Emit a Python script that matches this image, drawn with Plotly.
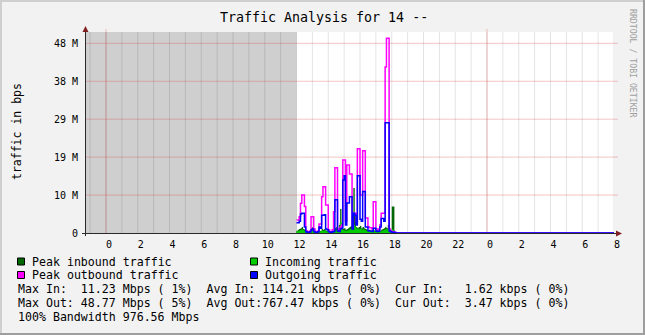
import plotly.graph_objects as go

# ---------------- data (Mbps), 5-minute samples starting at START_HOUR ----------------
# last value of each list is the flat level held until END_HOUR
peak_out = [3.3, 3.3, 4.1, 7.5, 9.6, 9.6, 6.7, 0.6, 0.4, 0.4,
            0.5, 4.1, 4.1, 1.0, 0.4, 0.3, 0.5, 2.3, 2.3, 9.2,
            11.7, 11.7, 7.1, 7.1, 0.8, 0.4, 0.4, 0.8, 5.4, 16.5,
            16.5, 1.0, 0.6, 1.5, 2.0, 18.5, 18.5, 3.0, 17.2, 17.2,
            14.9, 14.9, 2.0, 5.0, 5.0, 3.0, 21.3, 21.3, 9.6, 9.6,
            20.8, 20.8, 3.8, 3.8, 1.5, 1.3, 1.3, 1.0, 7.9, 7.9,
            1.0, 0.8, 1.0, 2.0, 5.0, 5.0, 5.0, 42.0, 49.3, 49.3,
            1.0, 0.5, 0.4, 0.3, 0.2, 0.005]
out = [2.6, 2.6, 3.0, 4.8, 5.0, 5.0, 1.5, 0.3, 0.2, 0.2,
       0.3, 0.8, 1.0, 0.4, 0.2, 0.2, 0.3, 1.5, 1.2, 4.5,
       4.5, 4.6, 1.0, 0.8, 0.4, 0.2, 0.2, 0.3, 0.4, 8.4,
       8.4, 0.5, 0.4, 1.0, 1.2, 13.4, 14.5, 2.0, 7.6, 7.6,
       9.2, 9.2, 1.0, 5.0, 4.5, 2.0, 14.5, 14.5, 3.5, 3.0,
       10.5, 10.5, 1.5, 1.5, 0.6, 0.5, 0.5, 0.4, 1.2, 1.2,
       0.5, 0.4, 0.5, 1.5, 3.7, 3.7, 3.0, 27.9, 27.9, 27.9,
       0.5, 0.3, 0.2, 0.2, 0.1, 0.0035]
peak_in = [0.6, 0.8, 1.0, 1.2, 1.5, 1.0, 0.8, 0.4, 0.3, 0.3,
           0.4, 1.2, 1.5, 0.4, 0.3, 0.3, 0.4, 0.6, 0.5, 1.0,
           0.8, 1.0, 0.6, 0.5, 0.3, 0.3, 0.3, 0.4, 0.8, 1.2,
           1.5, 0.6, 2.0, 6.1, 1.5, 1.0, 1.2, 0.8, 1.0, 1.2,
           1.5, 1.8, 1.0, 11.4, 5.0, 1.5, 1.2, 1.5, 1.8, 1.2,
           1.5, 1.2, 1.0, 0.8, 0.6, 0.8, 0.6, 0.5, 0.8, 0.6,
           0.5, 0.4, 0.5, 0.6, 0.8, 1.0, 1.2, 1.5, 1.2, 2.0,
           1.0, 0.6, 6.7, 6.7, 0.3, 0.003]
incoming = [0.3, 0.4, 0.5, 0.6, 0.8, 0.5, 0.3, 0.2, 0.2, 0.1,
            0.2, 0.5, 0.6, 0.2, 0.1, 0.1, 0.2, 0.3, 0.3, 0.5,
            0.4, 0.5, 0.3, 0.3, 0.2, 0.1, 0.1, 0.2, 0.3, 0.6,
            0.7, 0.3, 1.0, 2.5, 0.8, 0.6, 0.5, 0.4, 0.5, 0.6,
            0.8, 1.0, 0.6, 2.0, 1.5, 1.0, 0.8, 0.9, 1.0, 0.6,
            0.8, 0.7, 0.5, 0.4, 0.3, 0.4, 0.3, 0.3, 0.4, 0.3,
            0.2, 0.2, 0.3, 0.3, 0.4, 0.5, 0.6, 0.8, 0.6, 1.0,
            0.5, 0.3, 0.8, 0.6, 0.2, 0.0016]

START_HOUR = 12.0
STEP_MIN = 5
END_HOUR = 32.0
X_MIN = -1.323

y_tickvals = [0, 9.6, 19.2, 28.8, 38.4, 48.0]
y_ticktext = ["0", "10 M", "19 M", "29 M", "38 M", "48 M"]
Y_MAX = 50.86
x_tick_hours = list(range(-1, 33))
x_ticktext = [str(h % 24) if h % 2 == 0 else "" for h in x_tick_hours]
day_lines = [0, 24]

legend_rows = [
    [("Peak inbound traffic", "#006600"), ("Incoming traffic", "#00cc00")],
    [("Peak outbound traffic", "#ff00ff"), ("Outgoing traffic", "#0000ff")],
]
stats_lines = [
    "Max In:  11.23 Mbps ( 1%)  Avg In: 114.21 kbps ( 0%)  Cur In:   1.62 kbps ( 0%)",
    "Max Out: 48.77 Mbps ( 5%)  Avg Out:767.47 kbps ( 0%)  Cur Out:  3.47 kbps ( 0%)",
    "100% Bandwidth 976.56 Mbps",
]
title_text = "Traffic Analysis for 14 --"
ytitle_text = "traffic in bps"
watermark = "RRDTOOL / TOBI OETIKER"

# ---------------- layout geometry (pixels) ----------------
W, H = 645, 335
PL, PR, PT, PB = 85, 614, 32, 233
PW, PH = PR - PL, PB - PT
FONT = "DejaVu Sans Mono"
MINOR_GRID = "rgba(0,0,0,0.11)"
MAJOR_GRID = "rgba(220,70,70,0.32)"


def px(X):
    return (X - PL) / PW


def py(Y):
    return (PB - Y) / PH


def nb(s):
    return s.replace(" ", "\u00a0")


times = [START_HOUR + i * STEP_MIN / 60.0 for i in range(len(out))] + [END_HOUR]


def ext(v):
    return list(v) + [v[-1]]


fig = go.Figure()
fig.add_trace(go.Scatter(x=times, y=ext(peak_in), mode="lines", line=dict(shape="hv", width=0, color="#006600"),
                         fill="tozeroy", fillcolor="#006600", hoverinfo="skip"))
fig.add_trace(go.Scatter(x=times, y=ext(incoming), mode="lines", line=dict(shape="hv", width=1, color="#00cc00"),
                         fill="tozeroy", fillcolor="#00cc00", hoverinfo="skip"))
fig.add_trace(go.Scatter(x=times, y=ext(peak_out), mode="lines", line=dict(shape="hv", width=1.5, color="#ff00ff"),
                         hoverinfo="skip"))
fig.add_trace(go.Scatter(x=times, y=ext(out), mode="lines", line=dict(shape="hv", width=1.5, color="#0000ff"),
                         hoverinfo="skip"))

shapes = []
# unknown (grey) region
shapes.append(dict(type="rect", xref="x", yref="paper", x0=X_MIN, x1=START_HOUR, y0=0, y1=1,
                   fillcolor="#cfcfcf", line=dict(width=0), layer="below"))
# grid drawn over the grey region
for h in x_tick_hours:
    shapes.append(dict(type="line", xref="x", yref="paper", x0=h, x1=h, y0=0, y1=1,
                       line=dict(color=MINOR_GRID, width=1), layer="below"))
for d in day_lines:
    shapes.append(dict(type="line", xref="x", yref="paper", x0=d, x1=d, y0=0, y1=1.015,
                       line=dict(color=MAJOR_GRID, width=1), layer="below"))
for v in y_tickvals[1:]:
    shapes.append(dict(type="line", xref="paper", yref="y", x0=0, x1=px(618), y0=v, y1=v,
                       line=dict(color=MAJOR_GRID, width=1), layer="below"))
# axes
AX = "#2a2a2a"
ARROW = "#802020"
shapes.append(dict(type="line", xref="paper", yref="paper", x0=px(82), x1=px(617), y0=py(PB + 0.5), y1=py(PB + 0.5),
                   line=dict(color=AX, width=1), layer="below"))
shapes.append(dict(type="line", xref="paper", yref="paper", x0=px(85.5), x1=px(85.5), y0=py(236), y1=py(30),
                   line=dict(color=AX, width=1)))
shapes.append(dict(type="path", xref="paper", yref="paper",
                   path=f"M {px(85.5)} {py(26)} L {px(82.5)} {py(32)} L {px(88.5)} {py(32)} Z",
                   fillcolor=ARROW, line=dict(width=0)))
shapes.append(dict(type="path", xref="paper", yref="paper",
                   path=f"M {px(622)} {py(233.5)} L {px(616)} {py(230.5)} L {px(616)} {py(236.5)} Z",
                   fillcolor=ARROW, line=dict(width=0)))
# 3D frame of the image
shapes.append(dict(type="rect", xref="paper", yref="paper", x0=px(0), x1=px(W), y0=py(0), y1=py(2),
                   fillcolor="#cfcfcf", line=dict(width=0)))
shapes.append(dict(type="rect", xref="paper", yref="paper", x0=px(0), x1=px(2), y0=py(0), y1=py(H),
                   fillcolor="#cfcfcf", line=dict(width=0)))
shapes.append(dict(type="rect", xref="paper", yref="paper", x0=px(0), x1=px(W), y0=py(H - 2), y1=py(H),
                   fillcolor="#9e9e9e", line=dict(width=0)))
shapes.append(dict(type="rect", xref="paper", yref="paper", x0=px(W - 2), x1=px(W), y0=py(0), y1=py(H),
                   fillcolor="#9e9e9e", line=dict(width=0)))

annotations = []
annotations.append(dict(text=nb(title_text), x=px(324), y=py(17), xref="paper", yref="paper",
                        xanchor="center", yanchor="middle", showarrow=False, borderpad=0,
                        font=dict(family=FONT, size=13.3, color="#000")))
annotations.append(dict(text=nb(ytitle_text), x=px(17), y=py(132), xref="paper", yref="paper",
                        xanchor="center", yanchor="middle", showarrow=False, textangle=-90, borderpad=0,
                        font=dict(family=FONT, size=11.5, color="#000")))
annotations.append(dict(text=nb(watermark), x=px(633), y=py(63), xref="paper", yref="paper",
                        xanchor="center", yanchor="middle", showarrow=False, textangle=90, borderpad=0,
                        font=dict(family=FONT, size=8.2, color="#a0a0a0")))

row_y = [261.5, 275, 289, 303, 317]
col_sq = [17, 250]
for r, row in enumerate(legend_rows):
    for c, (label, color) in enumerate(row):
        ycen = row_y[r]
        shapes.append(dict(type="rect", xref="paper", yref="paper",
                           x0=px(col_sq[c] + 0.5), x1=px(col_sq[c] + 7.5), y0=py(ycen + 3.5), y1=py(ycen - 3.5),
                           fillcolor=color, line=dict(color="#000", width=1)))
        annotations.append(dict(text=nb(label), x=px(col_sq[c] + 14), y=py(ycen), xref="paper", yref="paper",
                                xanchor="left", yanchor="middle", showarrow=False, borderpad=0,
                                font=dict(family=FONT, size=11.6, color="#000")))
for k, line in enumerate(stats_lines):
    annotations.append(dict(text=nb(line), x=px(17), y=py(row_y[2 + k]), xref="paper", yref="paper",
                            xanchor="left", yanchor="middle", showarrow=False, borderpad=0,
                            font=dict(family=FONT, size=11.6, color="#000")))

fig.update_layout(
    width=W, height=H,
    margin=dict(l=PL, r=W - PR, t=PT, b=H - PB, pad=0),
    paper_bgcolor="#f2f2f2", plot_bgcolor="#ffffff",
    showlegend=False,
    shapes=shapes, annotations=annotations,
    xaxis=dict(range=[X_MIN, END_HOUR], tickmode="array", tickvals=x_tick_hours, ticktext=x_ticktext,
               showgrid=False, zeroline=False, showline=False,
               ticks="", ticklabelstandoff=4, ticklabelshift=3,
               tickfont=dict(family=FONT, size=10, color="#000"), fixedrange=True),
    yaxis=dict(range=[0, Y_MAX], tickmode="array", tickvals=y_tickvals, ticktext=y_ticktext,
               showgrid=False, zeroline=False, showline=False,
               ticks="", ticklabelstandoff=6,
               tickfont=dict(family=FONT, size=10, color="#000"), fixedrange=True),
)

fig.write_html("out.html")
